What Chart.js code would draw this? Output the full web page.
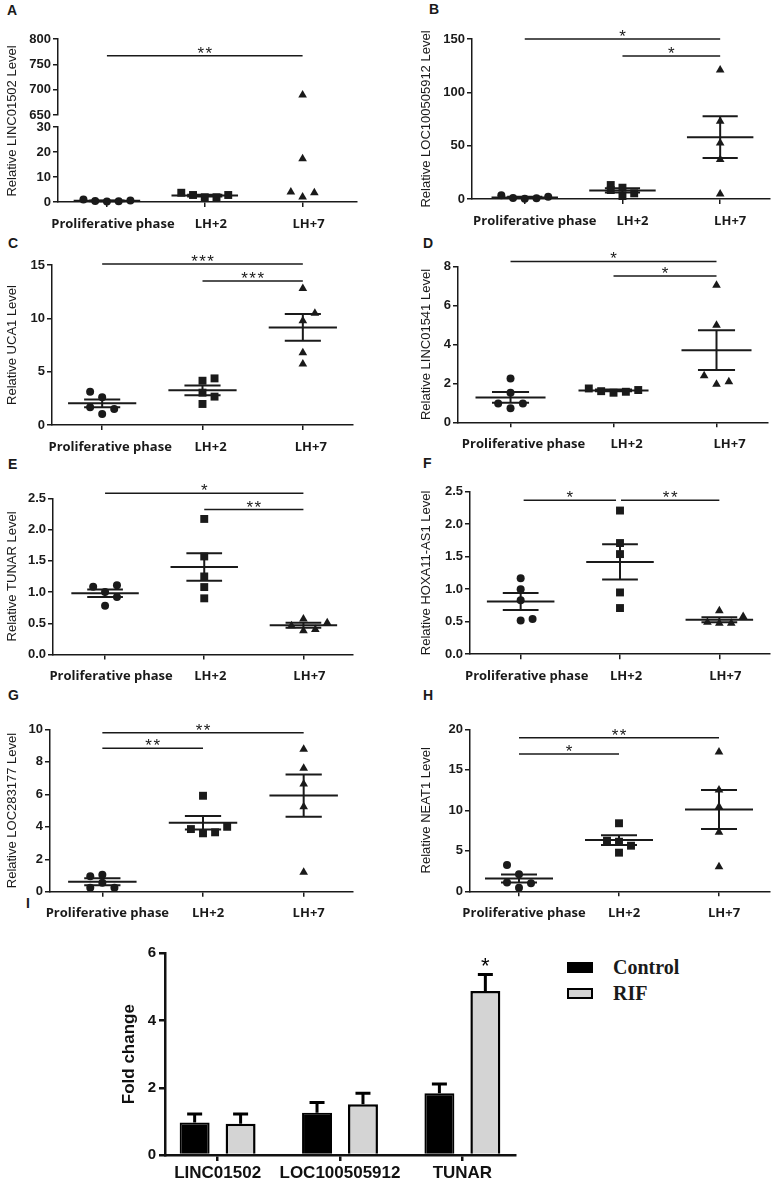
<!DOCTYPE html>
<html lang="en">
<head>
<meta charset="UTF-8">
<title>lncRNA levels across the cycle</title>
<script src="https://cdn.jsdelivr.net/npm/chart.js"></script>
<style>
  body { margin: 0; width: 781px; height: 1179px; background: #fff; position: relative; overflow: hidden;
         font-family: "Liberation Sans", Arial, sans-serif; color: #1a1a1a; }
  canvas { position: absolute; }
  .tag { position: absolute; font-weight: bold; font-size: 14px; line-height: 14px; }
  .swatch { position: absolute; width: 26px; height: 11px; box-sizing: border-box; }
  .key { position: absolute; font-family: "Liberation Serif", "Times New Roman", serif; font-weight: bold;
         font-size: 20px; line-height: 20px; }
</style>
</head>
<body>
<div class="tag" style="left:7px;top:3px">A</div>
<div class="tag" style="left:429px;top:2px">B</div>
<div class="tag" style="left:8px;top:236px">C</div>
<div class="tag" style="left:423px;top:236px">D</div>
<div class="tag" style="left:8px;top:457px">E</div>
<div class="tag" style="left:423px;top:456px">F</div>
<div class="tag" style="left:8px;top:688px">G</div>
<div class="tag" style="left:423px;top:688px">H</div>
<div class="tag" style="left:26px;top:896px">I</div>

<canvas id="cA"></canvas>
<canvas id="cB"></canvas>
<canvas id="cC"></canvas>
<canvas id="cD"></canvas>
<canvas id="cE"></canvas>
<canvas id="cF"></canvas>
<canvas id="cG"></canvas>
<canvas id="cH"></canvas>
<canvas id="cI"></canvas>

<div class="swatch" style="left:567px;top:962px;background:#000"></div>
<div class="key" style="left:613px;top:957px">Control</div>
<div class="swatch" style="left:567px;top:988px;background:#d4d4d4;border:2px solid #000"></div>
<div class="key" style="left:613px;top:983px">RIF</div>

<script>
// ---- data ----
const groups = ['Proliferative phase', 'LH+2', 'LH+7'];

// A: LINC01502 (axis broken between 30 and 650)
const lincLevels = [[1.0, 0.4, 0.2, 0.3, 0.6], [3.7, 2.8, 1.9, 1.9, 2.8], [4.0, 17.3, 689.5, 2.0, 3.7]];
const lincSpread = [[-0.24, -0.12, 0, 0.12, 0.24], [-0.24, -0.12, 0, 0.12, 0.24], [-0.12, 0, 0, 0, 0.12]];
const lincMean = [0.5, 2.6, null];
const lincSem = [0.15, 0.35, null];
const lincSig = [[0, 2, 767, '**', 'yTop']];

// B: LOC100505912
const locLevels = [[3.5, 1.0, 0.2, 0.8, 2.0], [13.1, 8.4, 2.8, 10.6, 5.3], [121, 73, 52.5, 37, 4.7]];
const locSpread = [[-0.24, -0.12, 0, 0.12, 0.24], [-0.12, -0.12, 0, 0, 0.12], [0, 0, 0, 0, 0]];
const locMean = [1.5, 8.0, 58];
const locSem = [0.6, 2.0, 19.5];
const locSig = [[0, 2, 150, '*'], [1, 2, 134, '*']];

// C: UCA1
const ucaLevels = [[3.12, 2.6, 1.66, 1.5, 1.03], [4.15, 4.37, 3.03, 2.66, 1.97], [12.8, 10.47, 9.78, 6.78, 5.72]];
const ucaSpread = [[-0.12, 0, -0.12, 0.12, 0], [0, 0.12, 0, 0.12, 0], [0, 0.12, 0, 0, 0]];
const ucaMean = [2.03, 3.25, 9.15];
const ucaSem = [0.37, 0.45, 1.25];
const ucaSig = [[0, 2, 15.1, '***'], [1, 2, 13.5, '***']];

// D: LINC01541
const l1541Levels = [[2.25, 1.52, 0.97, 0.97, 0.72], [1.74, 1.6, 1.52, 1.57, 1.66], [7.04, 4.99, 2.39, 1.95, 2.08]];
const l1541Spread = [[0, 0, -0.12, 0.12, 0], [-0.24, -0.12, 0, 0.12, 0.24], [0, 0, -0.12, 0, 0.12]];
const l1541Mean = [1.28, 1.64, 3.71];
const l1541Sem = [0.28, 0.04, 1.02];
const l1541Sig = [[0, 2, 8.27, '*'], [1, 2, 7.52, '*']];

// E: TUNAR
const tunarLevels = [[1.086, 1.11, 1.0, 0.92, 0.78], [2.17, 1.57, 1.25, 1.08, 0.9], [0.46, 0.57, 0.38, 0.40, 0.51]];
const tunarSpread = [[-0.12, 0.12, 0, 0.12, 0], [0, 0, 0, 0, 0], [-0.12, 0, 0, 0.12, 0.24]];
const tunarMean = [0.98, 1.40, 0.47];
const tunarSem = [0.06, 0.22, 0.04];
const tunarSig = [[0, 2, 2.58, '*'], [1, 2, 2.32, '**']];

// F: HOXA11-AS1
const hoxLevels = [[1.17, 1.0, 0.83, 0.52, 0.54], [2.21, 1.71, 1.54, 0.95, 0.71], [0.49, 0.67, 0.475, 0.475, 0.58]];
const hoxSpread = [[0, 0, 0, 0, 0.12], [0, 0, 0, 0, 0], [-0.12, 0, 0, 0.12, 0.24]];
const hoxMean = [0.81, 1.42, 0.53];
const hoxSem = [0.13, 0.27, 0.04];
const hoxSig = [[0.03, 0.96, 2.37, '*'], [1.01, 2.0, 2.37, '**']];

// G: LOC283177
const l283Levels = [[0.95, 1.05, 0.55, 0.25, 0.25], [5.91, 3.86, 3.6, 3.66, 4.0], [8.77, 7.6, 6.63, 5.24, 1.2]];
const l283Spread = [[-0.12, 0, 0, -0.12, 0.12], [0, -0.12, 0, 0.12, 0.24], [0, 0, 0, 0, 0]];
const l283Mean = [0.62, 4.25, 5.92];
const l283Sem = [0.21, 0.42, 1.3];
const l283Sig = [[0, 2, 9.79, '**'], [0, 1, 8.83, '**']];

// H: NEAT1
const neatLevels = [[3.25, 2.1, 1.1, 1.0, 0.45], [8.4, 6.25, 6.12, 5.63, 4.77], [17.2, 12.5, 10.45, 7.28, 3.04]];
const neatSpread = [[-0.12, 0, -0.12, 0.12, 0], [0, -0.12, 0, 0.12, 0], [0, 0, 0, 0, 0]];
const neatMean = [1.58, 6.33, 10.1];
const neatSem = [0.5, 0.6, 2.4];
const neatSig = [[0, 2, 18.96, '**'], [0, 1, 16.95, '*']];

// I: fold change, control vs RIF
const foldGenes = ['LINC01502', 'LOC100505912', 'TUNAR'];
const controlFold = [0.97, 1.26, 1.84];
const controlErr = [0.25, 0.30, 0.27];
const rifFold = [0.93, 1.51, 4.88];
const rifErr = [0.29, 0.33, 0.49];
const rifMarks = ['', '', '*'];

// ---- drawing ----
const INK = '#1a1a1a';
const shapes = ['circle', 'rect', 'triangle'];
const radii = [4, 5.6, 5];
const MEAN_HALF = 0.34, CAP_HALF = 0.18;
const tickFont = { family: '"Liberation Sans", Arial, sans-serif', size: 13, weight: 'bold' };

function placeCanvas(id, box) {
  const c = document.getElementById(id);
  c.width = box.width;
  c.height = Math.ceil(box.plotBottom - box.top + 40);
  c.style.left = box.left + 'px';
  c.style.top = box.top + 'px';
  return c;
}

function sigPlugin(items) {
  return {
    id: 'sig',
    afterDatasetsDraw(chart) {
      const ctx = chart.ctx;
      const xs = chart.scales.x;
      ctx.save();
      items.forEach(([a, b, level, text, axis]) => {
        const ys = chart.scales[axis || 'y'];
        const x1 = xs.getPixelForValue(a), x2 = xs.getPixelForValue(b);
        const y = ys.getPixelForValue(level);
        ctx.strokeStyle = INK;
        ctx.lineWidth = 1.5;
        ctx.beginPath(); ctx.moveTo(x1, y); ctx.lineTo(x2, y); ctx.stroke();
        ctx.fillStyle = INK;
        ctx.font = '17px "Liberation Sans", Arial, sans-serif';
        ctx.textAlign = 'center';
        ctx.textBaseline = 'alphabetic';
        ctx.fillText(text.split('').join('\u200a'), (x1 + x2) / 2, y + 3);
      });
      ctx.restore();
    }
  };
}

function seg(x1, y1, x2, y2, axis) {
  return { data: [{ x: x1, y: y1 }, { x: x2, y: y2 }], yAxisID: axis, showLine: true, borderColor: INK,
           borderWidth: 2, pointRadius: 0, clip: false };
}

function yScale(max, step, decimals, width, extra) {
  return Object.assign({
    type: 'linear', position: 'left', min: 0, max,
    afterFit: s => { s.width = width; },
    ticks: { stepSize: step, color: INK, padding: 2, font: tickFont, autoSkip: false,
             callback: v => v.toFixed(decimals) },
    grid: { drawOnChartArea: false, tickLength: 5, color: INK, lineWidth: 1.5 },
    border: { color: INK, width: 1.5 }
  }, extra || {});
}

function yTitle(text) {
  return { display: true, text, color: INK, padding: { top: 5, bottom: 0 },
           font: { family: '"Liberation Sans", Arial, sans-serif', size: 13 } };
}

function scatterPanel(id, box, d) {
  const canvas = placeCanvas(id, box);
  const datasets = [];
  d.levels.forEach((vals, g) => {
    const low = [], high = [];
    vals.forEach((v, k) => {
      const pt = { x: g + d.spread[g][k], y: v };
      (d.breakAt !== undefined && v > d.breakAt ? high : low).push(pt);
    });
    const style = { pointStyle: shapes[g], pointRadius: radii[g], pointBackgroundColor: INK,
                    pointBorderColor: INK, pointBorderWidth: 0, clip: false };
    datasets.push(Object.assign({ data: low, yAxisID: d.lowAxis }, style));
    if (high.length) datasets.push(Object.assign({ data: high, yAxisID: 'yTop' }, style));
  });
  d.mean.forEach((m, g) => {
    if (m === null) return;
    const s = d.sem[g];
    datasets.push(seg(g - MEAN_HALF, m, g + MEAN_HALF, m, d.lowAxis));
    datasets.push(seg(g - CAP_HALF, m + s, g + CAP_HALF, m + s, d.lowAxis));
    datasets.push(seg(g - CAP_HALF, m - s, g + CAP_HALF, m - s, d.lowAxis));
    datasets.push(seg(g, m - s, g, m + s, d.lowAxis));
  });
  const h = canvas.height;
  const plotH = box.plotBottom - box.top;
  return new Chart(canvas, {
    type: 'scatter',
    data: { datasets },
    options: {
      responsive: false, animation: false, events: [],
      layout: { padding: { top: box.plotTop - box.top, right: box.width - (box.right - box.left),
                           left: 0, bottom: h - plotH - 40 } },
      plugins: { legend: { display: false }, tooltip: { enabled: false } },
      scales: Object.assign({
        x: {
          type: 'linear', min: box.xMin, max: box.xMax,
          afterBuildTicks: s => { s.ticks = [0, 1, 2].map(v => ({ value: v })); },
          afterFit: s => { s.height = 40; },
          ticks: { callback: v => groups[v], color: INK, padding: 9, labelOffset: box.labelOffset,
                   autoSkip: false, maxRotation: 0,
                   font: { family: '"Open Sans", sans-serif', size: 13, weight: 'bold' } },
          grid: { drawOnChartArea: false, tickLength: 5, color: INK, lineWidth: 1.5 },
          border: { color: INK, width: 1.5 }
        }
      }, d.yScales)
    },
    plugins: [sigPlugin(d.sig)]
  });
}

const w = box => box.axisX - box.left;

const boxA = { left: 0, top: 11, width: 362, axisX: 58, right: 357, plotTop: 39, plotBottom: 202, xMin: -0.5, xMax: 2.55, labelOffset: 6 };
const boxB = { left: 414, top: 11, width: 362, axisX: 472, right: 770, plotTop: 39, plotBottom: 199, xMin: -0.54, xMax: 2.51, labelOffset: 10 };
const boxC = { left: 0, top: 237, width: 362, axisX: 52, right: 353, plotTop: 265, plotBottom: 425, xMin: -0.5, xMax: 2.5, labelOffset: 8 };
const boxD = { left: 414, top: 239, width: 362, axisX: 458, right: 768, plotTop: 266.7, plotBottom: 422.3, xMin: -0.51, xMax: 2.5, labelOffset: 13 };
const boxE = { left: 0, top: 470, width: 362, axisX: 53, right: 353, plotTop: 498.3, plotBottom: 654.6, xMin: -0.525, xMax: 2.5, labelOffset: 6 };
const boxF = { left: 414, top: 464, width: 362, axisX: 470, right: 770, plotTop: 491.7, plotBottom: 654.2, xMin: -0.51, xMax: 2.51, labelOffset: 6 };
const boxG = { left: 0, top: 701, width: 362, axisX: 50, right: 353, plotTop: 729.3, plotBottom: 891.8, xMin: -0.52, xMax: 2.49, labelOffset: 5 };
const boxH = { left: 414, top: 701, width: 362, axisX: 470, right: 770, plotTop: 729.3, plotBottom: 891.3, xMin: -0.49, xMax: 2.51, labelOffset: 5 };

// A uses two stacked y scales with an empty gap between them for the axis break
scatterPanel('cA', boxA, {
  levels: lincLevels, spread: lincSpread, mean: lincMean, sem: lincSem, sig: lincSig,
  breakAt: 30, lowAxis: 'yBot',
  yScales: {
    yTop: yScale(800, 50, 0, w(boxA), { min: 650, stack: 'brk', stackWeight: 76, weight: 3 }),
    yGap: { type: 'linear', position: 'left', min: 0, max: 1, stack: 'brk', stackWeight: 12, weight: 2,
            afterFit: s => { s.width = w(boxA); },
            ticks: { display: false }, grid: { display: false }, border: { display: false },
            title: yTitle('Relative LINC01502 Level') },
    yBot: yScale(30, 10, 0, w(boxA), { stack: 'brk', stackWeight: 75, weight: 1 })
  }
});

function simple(id, box, levels, spread, mean, sem, sig, max, step, dec, title) {
  scatterPanel(id, box, {
    levels, spread, mean, sem, sig, lowAxis: 'y',
    yScales: { y: yScale(max, step, dec, w(box), { title: yTitle(title) }) }
  });
}

simple('cB', boxB, locLevels, locSpread, locMean, locSem, locSig, 150, 50, 0, 'Relative LOC100505912 Level');
simple('cC', boxC, ucaLevels, ucaSpread, ucaMean, ucaSem, ucaSig, 15, 5, 0, 'Relative UCA1 Level');
simple('cD', boxD, l1541Levels, l1541Spread, l1541Mean, l1541Sem, l1541Sig, 8, 2, 0, 'Relative LINC01541 Level');
simple('cE', boxE, tunarLevels, tunarSpread, tunarMean, tunarSem, tunarSig, 2.5, 0.5, 1, 'Relative TUNAR Level');
simple('cF', boxF, hoxLevels, hoxSpread, hoxMean, hoxSem, hoxSig, 2.5, 0.5, 1, 'Relative HOXA11-AS1 Level');
simple('cG', boxG, l283Levels, l283Spread, l283Mean, l283Sem, l283Sig, 10, 2, 0, 'Relative LOC283177 Level');
simple('cH', boxH, neatLevels, neatSpread, neatMean, neatSem, neatSig, 20, 5, 0, 'Relative NEAT1 Level');

// ---- I: bar chart ----
const errorBars = {
  id: 'errorBars',
  afterDatasetsDraw(chart) {
    const ctx = chart.ctx;
    const ys = chart.scales.y;
    const errs = [controlErr, rifErr];
    const vals = [controlFold, rifFold];
    ctx.save();
    ctx.strokeStyle = '#000';
    ctx.lineWidth = 3;
    chart.data.datasets.forEach((ds, d) => {
      chart.getDatasetMeta(d).data.forEach((bar, j) => {
        const top = ys.getPixelForValue(vals[d][j] + errs[d][j]);
        ctx.beginPath();
        ctx.moveTo(bar.x, bar.y); ctx.lineTo(bar.x, top);
        ctx.moveTo(bar.x - 7.5, top); ctx.lineTo(bar.x + 7.5, top);
        ctx.stroke();
        if (d === 1 && rifMarks[j]) {
          ctx.fillStyle = '#000';
          ctx.font = '22px "Liberation Sans", Arial, sans-serif';
          ctx.textAlign = 'center';
          ctx.fillText(rifMarks[j], bar.x, top - 1);
        }
      });
    });
    ctx.restore();
  }
};

const boxI = { left: 100, top: 935, width: 420, axisX: 165, right: 515, plotTop: 953.3, plotBottom: 1155 };
const cI = document.getElementById('cI');
cI.width = boxI.width;
cI.height = 244;
cI.style.left = boxI.left + 'px';
cI.style.top = boxI.top + 'px';
const boldFont = size => ({ family: '"Liberation Sans", Arial, sans-serif', size, weight: 'bold' });

new Chart(cI, {
  type: 'bar',
  data: {
    datasets: [
      { label: 'Control', data: controlFold.map((v, i) => ({ x: i, y: v })), backgroundColor: '#000',
        borderColor: '#000', borderWidth: 2 },
      { label: 'RIF', data: rifFold.map((v, i) => ({ x: i, y: v })), backgroundColor: '#d4d4d4',
        borderColor: '#000', borderWidth: 2.5 }
    ]
  },
  options: {
    responsive: false, animation: false, events: [],
    categoryPercentage: 0.751, barPercentage: 0.652,
    layout: { padding: { top: boxI.plotTop - boxI.top, right: boxI.width - (boxI.right - boxI.left), left: 0,
                         bottom: cI.height - (boxI.plotBottom - boxI.top) - 24 } },
    plugins: { legend: { display: false }, tooltip: { enabled: false } },
    scales: {
      x: {
        type: 'linear', min: -0.43, max: 2.43, offset: false,
        afterBuildTicks: s => { s.ticks = [0, 1, 2].map(v => ({ value: v })); },
        afterFit: s => { s.height = 24; },
        ticks: { callback: v => foldGenes[v], color: '#111', padding: 2, font: boldFont(17), autoSkip: false, maxRotation: 0 },
        grid: { offset: false, drawOnChartArea: false, tickLength: 6, color: '#111', lineWidth: 2.5 },
        border: { color: '#111', width: 2.5 }
      },
      y: {
        min: 0, max: 6,
        afterFit: s => { s.width = boxI.axisX - boxI.left; },
        ticks: { stepSize: 2, color: '#111', padding: 3, font: boldFont(15) },
        grid: { drawOnChartArea: false, tickLength: 6, color: '#111', lineWidth: 2.5 },
        border: { color: '#111', width: 2.5 },
        title: { display: true, text: 'Fold change', color: '#111', font: boldFont(17), padding: { top: 19, bottom: 0 } }
      }
    }
  },
  plugins: [errorBars]
});
</script>
</body>
</html>
